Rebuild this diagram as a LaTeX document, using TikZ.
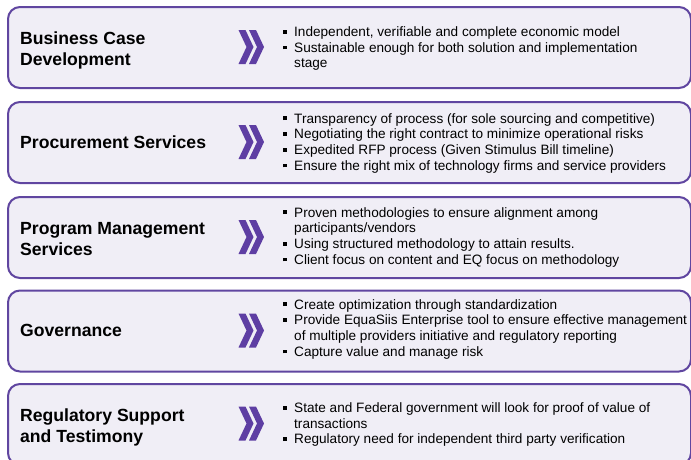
\documentclass[tikz,border=0pt]{standalone}
\usepackage{fontspec}
\setmainfont{Liberation Sans}
\definecolor{boxline}{RGB}{96,70,160}
\definecolor{boxfill}{RGB}{240,238,246}
\definecolor{chev}{RGB}{94,62,163}
\newcommand\bul{\makebox[11pt][l]{\rule[2.8pt]{3.8pt}{3.8pt}}}
\newcommand\bitem[1]{\par\hangindent=11pt\hangafter=1\noindent\bul#1}
\newcommand\blist[1]{\parbox[t]{430pt}{\raggedright #1}}
\newcommand\tlines[1]{\parbox[t]{220pt}{\raggedright #1}}
\begin{document}
\begin{tikzpicture}[x=1pt,y=-1pt,
  panel/.style={draw=boxline, fill=boxfill, line width=2pt, rounded corners=12pt,
    anchor=north west, minimum width=683pt, minimum height=81pt, inner sep=0pt},
  title/.style={anchor=base west, font=\fontsize{17.6}{21}\selectfont\bfseries, inner sep=0pt},
  bullets/.style={anchor=base west, inner sep=0pt, font=\fontsize{13.6}{15.7}\selectfont},
  chevs/.pic={
    \fill[chev] (0,-17) -- (7,-17) -- (15,0) -- (7,17) -- (0,17) -- (8,0) -- cycle;
    \fill[chev] (10.5,-17) -- (17.5,-17) -- (25.5,0) -- (17.5,17) -- (10.5,17) -- (18.5,0) -- cycle;
  }]
\useasboundingbox (0,0) rectangle (691,459);
\clip (0,0) rectangle (691,459);

\node[panel] (b1) at (7,6) {};
\node[panel] (b2) at (7,101) {};
\node[panel] (b3) at (7,196) {};
\node[panel] (b4) at (7,289.5) {};
\node[panel] (b5) at (7,383) {};

\node[title] (t1) at (20,44) {\tlines{Business Case\\Development}};
\node[title] (t2) at (20,148) {\tlines{Procurement Services}};
\node[title] (t3) at (20,234) {\tlines{Program Management\\Services}};
\node[title] (t4) at (20,336.5) {\tlines{Governance}};
\node[title] (t5) at (20,421) {\tlines{Regulatory Support\\and Testimony}};

\pic at (238.5,47) {chevs};
\pic at (238.5,142) {chevs};
\pic at (238.5,237) {chevs};
\pic at (238.5,330.5) {chevs};
\pic at (238.5,423.5) {chevs};

\node[bullets] (l1) at (283,36.5) {\blist{%
  \bitem{Independent, verifiable and complete economic model}
  \bitem{Sustainable enough for both solution and implementation\newline stage}}};
\node[bullets] (l2) at (283,123) {\blist{%
  \bitem{Transparency of process (for sole sourcing and competitive)}
  \bitem{Negotiating the right contract to minimize operational risks}
  \bitem{Expedited RFP process (Given Stimulus Bill timeline)}
  \bitem{Ensure the right mix of technology firms and service providers}}};
\node[bullets] (l3) at (283,217) {\blist{%
  \bitem{Proven methodologies to ensure alignment among\newline participants/vendors}
  \bitem{Using structured methodology to attain results.}
  \bitem{Client focus on content and EQ focus on methodology}}};
\node[bullets] (l4) at (283,309) {\blist{%
  \bitem{Create optimization through standardization}
  \bitem{Provide EquaSiis Enterprise tool to ensure effective management\newline of multiple providers initiative and regulatory reporting}
  \bitem{Capture value and manage risk}}};
\node[bullets] (l5) at (283,412.5) {\blist{%
  \bitem{State and Federal government will look for proof of value of\newline transactions}
  \bitem{Regulatory need for independent third party verification}}};
\end{tikzpicture}
\end{document}
